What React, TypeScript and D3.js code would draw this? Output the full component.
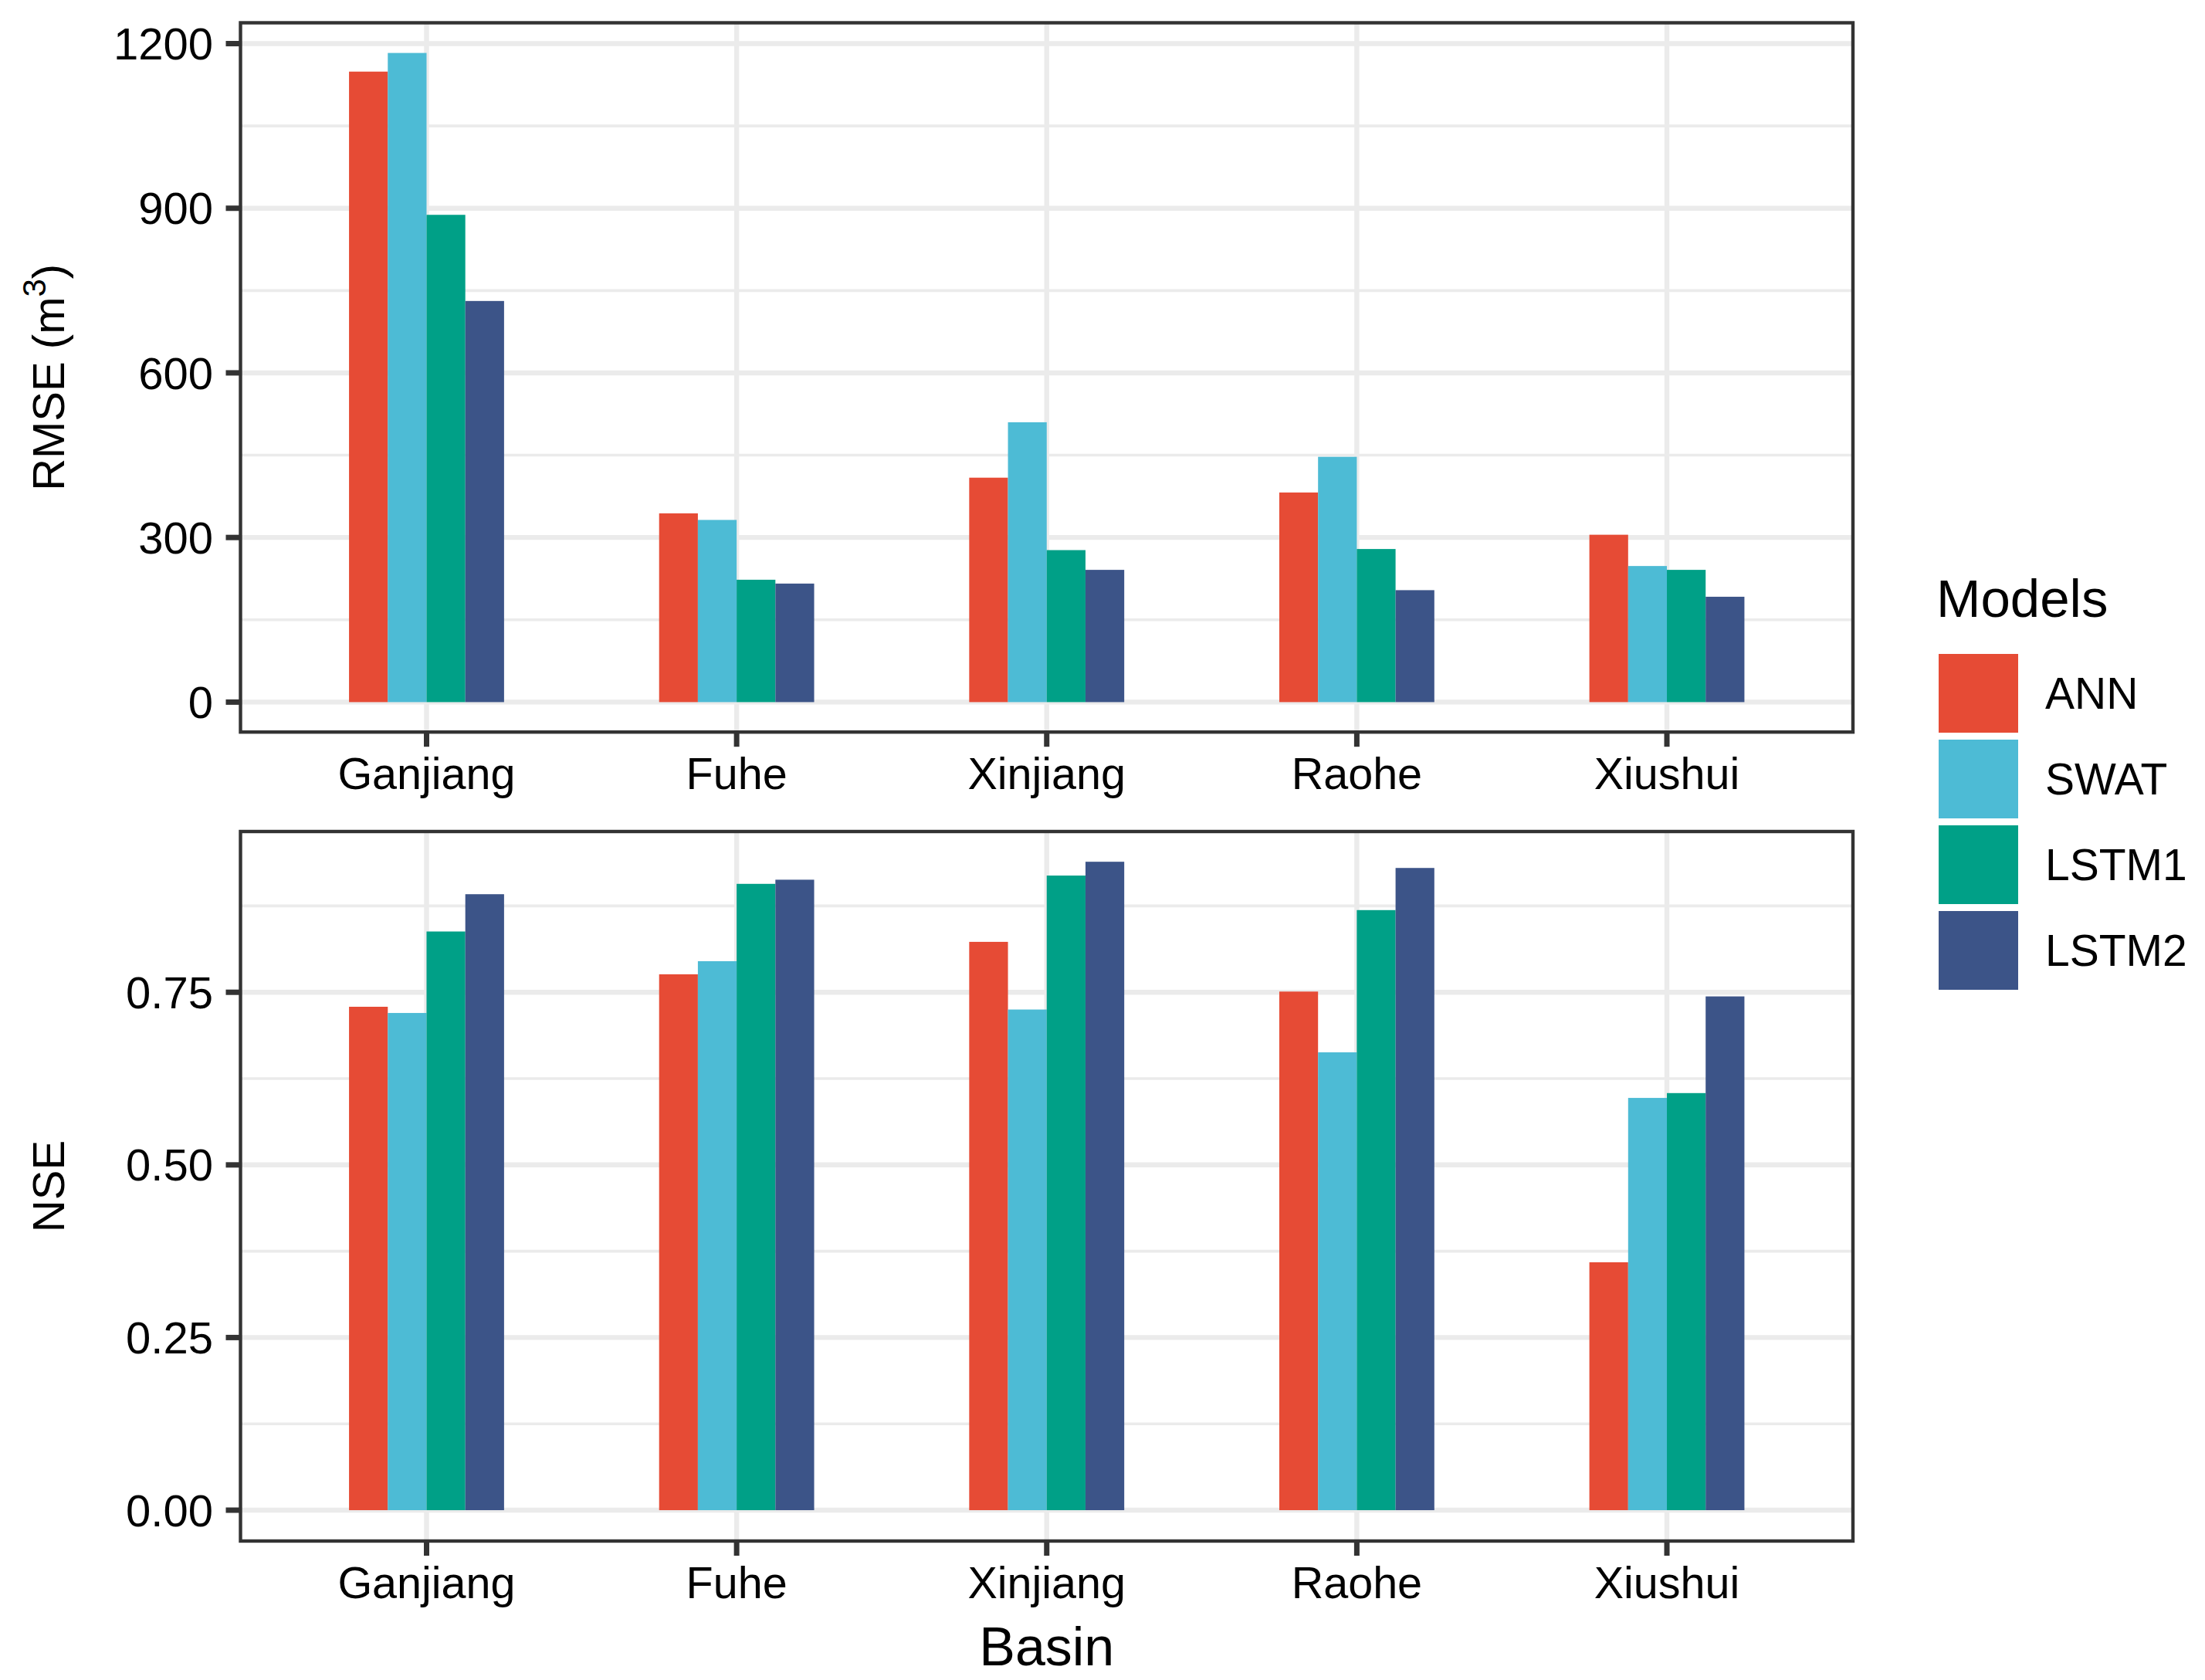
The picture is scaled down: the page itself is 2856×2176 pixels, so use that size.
import React from "react";
import * as d3 from "d3";

const basins = ["Ganjiang", "Fuhe", "Xinjiang", "Raohe", "Xiushui"];
const models = ["ANN", "SWAT", "LSTM1", "LSTM2"];
const modelColors = ["#E64B35", "#4DBBD5", "#00A087", "#3C5488"];

const rmseANN = [1149, 344, 409, 382, 305];
const rmseSWAT = [1183, 332, 510, 447, 248];
const rmseLSTM1 = [888, 223, 277, 279, 241];
const rmseLSTM2 = [731, 216, 241, 204, 192];

const nseANN = [0.729, 0.776, 0.823, 0.751, 0.359];
const nseSWAT = [0.72, 0.795, 0.725, 0.663, 0.597];
const nseLSTM1 = [0.838, 0.907, 0.919, 0.869, 0.604];
const nseLSTM2 = [0.892, 0.913, 0.939, 0.93, 0.744];

const rmseTicks = [0, 300, 600, 900, 1200];
const nseTicks = [0, 0.25, 0.5, 0.75];

const W = 2856;
const H = 2176;
const FONT = "'Liberation Sans', Arial, Helvetica, sans-serif";
const GRID = "#EBEBEB";
const DARK = "#333333";

const panelLeft = 311.5;
const panelRight = 2400;

type PanelProps = {
  top: number;
  bottom: number;
  domain: [number, number];
  series: number[][];
  ticks: number[];
  fmt: (v: number) => string;
  title: React.ReactNode;
};

function Panel({ top, bottom, domain, series, ticks, fmt, title }: PanelProps) {
  const x = d3
    .scalePoint<string>()
    .domain(basins)
    .range([panelLeft, panelRight])
    .padding(0.6);
  const step = x.step();
  const groupW = step * 0.5;
  const xs = d3
    .scaleBand<string>()
    .domain(models)
    .range([-groupW / 2, groupW / 2])
    .padding(0);
  const y = d3.scaleLinear().domain(domain).range([bottom, top]);

  const minor: number[] = [];
  for (let i = 0; i < ticks.length - 1; i++) minor.push((ticks[i] + ticks[i + 1]) / 2);
  const tstep = ticks[1] - ticks[0];
  const above = ticks[ticks.length - 1] + tstep / 2;
  if (above < domain[1]) minor.push(above);

  const clipId = `clip-${top}`;
  const midY = (top + bottom) / 2;

  return (
    <g>
      <defs>
        <clipPath id={clipId}>
          <rect x={panelLeft} y={top} width={panelRight - panelLeft} height={bottom - top} />
        </clipPath>
      </defs>
      <rect x={panelLeft} y={top} width={panelRight - panelLeft} height={bottom - top} fill="#FFFFFF" />
      <g clipPath={`url(#${clipId})`}>
        {minor.map((v) => (
          <line key={"mn" + v} x1={panelLeft} x2={panelRight} y1={y(v)} y2={y(v)} stroke={GRID} strokeWidth={3.6} />
        ))}
        {ticks.map((v) => (
          <line key={"mj" + v} x1={panelLeft} x2={panelRight} y1={y(v)} y2={y(v)} stroke={GRID} strokeWidth={6.4} />
        ))}
        {basins.map((b) => (
          <line key={"vg" + b} x1={x(b)!} x2={x(b)!} y1={top} y2={bottom} stroke={GRID} strokeWidth={6.4} />
        ))}
        {basins.map((b, bi) =>
          models.map((m, mi) => {
            const v = series[mi][bi];
            const x0 = x(b)! + xs(m)!;
            return (
              <rect
                key={b + m}
                x={x0}
                y={y(v)}
                width={xs.bandwidth()}
                height={y(0) - y(v)}
                fill={modelColors[mi]}
              />
            );
          })
        )}
      </g>
      <rect
        x={panelLeft}
        y={top}
        width={panelRight - panelLeft}
        height={bottom - top}
        fill="none"
        stroke={DARK}
        strokeWidth={4.4}
      />
      {ticks.map((v) => (
        <g key={"yt" + v}>
          <line x1={panelLeft - 19} x2={panelLeft} y1={y(v)} y2={y(v)} stroke={DARK} strokeWidth={7} />
          <text
            x={276}
            y={y(v)}
            dy="0.355em"
            textAnchor="end"
            fontFamily={FONT}
            fontSize={58}
            fill="#000"
          >
            {fmt(v)}
          </text>
        </g>
      ))}
      {basins.map((b) => (
        <g key={"xt" + b}>
          <line x1={x(b)!} x2={x(b)!} y1={bottom} y2={bottom + 19} stroke={DARK} strokeWidth={7} />
          <text x={x(b)!} y={bottom + 74} textAnchor="middle" fontFamily={FONT} fontSize={57.5} fill="#000">
            {b}
          </text>
        </g>
      ))}
      <text
        transform={`translate(83,${midY}) rotate(-90)`}
        textAnchor="middle"
        fontFamily={FONT}
        fontSize={58}
        fill="#000"
      >
        {title}
      </text>
    </g>
  );
}

export default function App() {
  const rmseSeries = [rmseANN, rmseSWAT, rmseLSTM1, rmseLSTM2];
  const nseSeries = [nseANN, nseSWAT, nseLSTM1, nseLSTM2];
  const keyX = 2511;
  const keyY0 = 847;
  const keyStep = 111;
  const keySize = 102;

  return (
    <svg
      width={W}
      height={H}
      viewBox={`0 0 ${W} ${H}`}
      style={{ position: "absolute", left: 0, top: 0, display: "block", background: "#FFFFFF" }}
    >
      <rect x={0} y={0} width={W} height={H} fill="#FFFFFF" />
      <Panel
        top={29.5}
        bottom={948.2}
        domain={[-54.6, 1238]}
        series={rmseSeries}
        ticks={rmseTicks}
        fmt={(v) => d3.format("d")(v)}
        title={
          <>
            <tspan>RMSE (m</tspan>
            <tspan dy={-24} fontSize={42}>
              3
            </tspan>
            <tspan dy={24}>)</tspan>
          </>
        }
      />
      <Panel
        top={1077}
        bottom={1996}
        domain={[-0.0447, 0.9828]}
        series={nseSeries}
        ticks={nseTicks}
        fmt={(v) => d3.format(".2f")(v)}
        title={<tspan>NSE</tspan>}
      />
      <text x={(panelLeft + panelRight) / 2} y={2157} textAnchor="middle" fontFamily={FONT} fontSize={70} fill="#000">
        Basin
      </text>
      <g>
        <text x={keyX - 3} y={799} fontFamily={FONT} fontSize={69} fill="#000">
          Models
        </text>
        {models.map((m, i) => {
          const ky = keyY0 + i * keyStep;
          return (
            <g key={"lg" + m}>
              <rect x={keyX} y={ky} width={103} height={keySize} fill={modelColors[i]} />
              <text
                x={2649}
                y={ky + keySize / 2}
                dy="0.355em"
                fontFamily={FONT}
                fontSize={57}
                fill="#000"
              >
                {m}
              </text>
            </g>
          );
        })}
      </g>
    </svg>
  );
}
